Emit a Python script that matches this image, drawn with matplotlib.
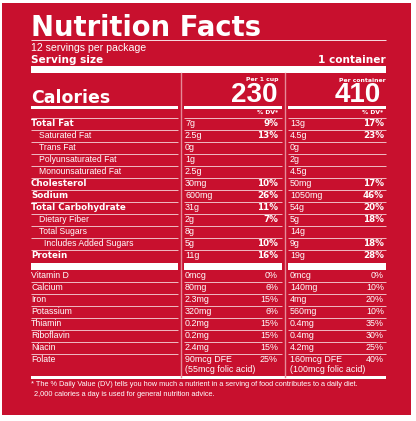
import matplotlib
matplotlib.use('Agg')
import matplotlib.pyplot as plt
from matplotlib.patches import Rectangle

# label data
servings_text = '12 servings per package'
serving_size = '1 container'
col_heads = ['Per 1 cup', 'Per container']
calories = ['230', '410']

nutrients = ['Total Fat', 'Saturated Fat', 'Trans Fat', 'Polyunsaturated Fat',
             'Monounsaturated Fat', 'Cholesterol', 'Sodium', 'Total Carbohydrate',
             'Dietary Fiber', 'Total Sugars', 'Includes Added Sugars', 'Protein']
indent = [0, 1, 1, 1, 1, 0, 0, 0, 1, 1, 2, 0]
cup_amt = ['7g', '2.5g', '0g', '1g', '2.5g', '30mg', '600mg', '31g', '2g', '8g', '5g', '11g']
cup_dv = ['9%', '13%', '', '', '', '10%', '26%', '11%', '7%', '', '10%', '16%']
cont_amt = ['13g', '4.5g', '0g', '2g', '4.5g', '50mg', '1050mg', '54g', '5g', '14g', '9g', '19g']
cont_dv = ['17%', '23%', '', '', '', '17%', '46%', '20%', '18%', '', '18%', '28%']

vitamins = ['Vitamin D', 'Calcium', 'Iron', 'Potassium', 'Thiamin', 'Riboflavin', 'Niacin', 'Folate']
vit_cup_amt = ['0mcg', '80mg', '2.3mg', '320mg', '0.2mg', '0.2mg', '2.4mg', '90mcg DFE\n(55mcg folic acid)']
vit_cup_dv = ['0%', '6%', '15%', '6%', '15%', '15%', '15%', '25%']
vit_cont_amt = ['0mcg', '140mg', '4mg', '560mg', '0.4mg', '0.4mg', '4.2mg', '160mcg DFE\n(100mcg folic acid)']
vit_cont_dv = ['0%', '10%', '20%', '10%', '35%', '30%', '25%', '40%']

footnote = ['* The % Daily Value (DV) tells you how much a nutrient in a serving of food contributes to a daily diet.',
            '2,000 calories a day is used for general nutrition advice.']

RED = '#C8102E'
W = 'white'
HEAVY = 'DejaVu Sans'
REG = 'Liberation Sans'

fig = plt.figure(figsize=(4.16, 4.21), dpi=100)
ax = fig.add_axes([0, 0, 1, 1])
ax.set_xlim(0, 416)
ax.set_ylim(421, 0)
ax.axis('off')

ax.add_patch(Rectangle((2, 3), 409, 412, color=RED, lw=0))

# column extents
cols = [(31, 178), (184, 282), (288, 386)]
amt_x = [185, 290]
pct_x = [278, 384]

def hline(y, x0, x1, lw=0.5, color=W):
    ax.plot([x0, x1], [y, y], color=color, lw=lw, solid_capstyle='butt')

def bar(y0, y1, x0, x1):
    ax.add_patch(Rectangle((x0, y0), x1 - x0, y1 - y0, color=W, lw=0))

# header
ax.text(31, 36, 'Nutrition Facts', color=W, fontsize=19.8, fontweight='bold',
        family=HEAVY, va='baseline', ha='left')
hline(40, 31, 386, lw=0.6)
ax.text(31, 48, servings_text, color=W, fontsize=7.6, family=REG, va='center')
ax.text(31, 60, 'Serving size', color=W, fontsize=7.6, fontweight='bold', family=HEAVY, va='center')
ax.text(386, 60, serving_size, color=W, fontsize=7.6, fontweight='bold', family=HEAVY, va='center', ha='right')
bar(66, 73, 31, 386)

# column separators
for x in [181, 285]:
    ax.plot([x, x], [73, 377], color='#E58A98', lw=1.0)

# calories block
ax.text(31, 103, 'Calories', color=W, fontsize=12.5, fontweight='bold', family=HEAVY, va='baseline')
calx = [278, 381]
for k in range(2):
    ax.text(pct_x[k] if k == 0 else 386, 80, col_heads[k], color=W, fontsize=4.4,
            fontweight='bold', family=HEAVY, va='center', ha='right')
    ax.text(calx[k], 102, calories[k], color=W, fontsize=20, fontweight='bold',
            family=REG, va='baseline', ha='right')
    ax.text(pct_x[k] - (0 if k == 0 else 1), 113, '% DV*', color=W, fontsize=4.4,
            fontweight='bold', family=HEAVY, va='center', ha='right')
for x0, x1 in cols:
    bar(106, 109, x0, x1)
    hline(118, x0, x1)

# main nutrients
for i, name in enumerate(nutrients):
    y = 124 + 12 * i
    if indent[i] == 0:
        ax.text(31, y, name, color=W, fontsize=6.3, fontweight='bold', family=HEAVY, va='center')
    else:
        ax.text(39 if indent[i] == 1 else 44, y, name, color=W, fontsize=6.2, family=REG, va='center')
    for k, (amts, dvs) in enumerate([(cup_amt, cup_dv), (cont_amt, cont_dv)]):
        ax.text(amt_x[k], y, amts[i], color=W, fontsize=6.4, family=REG, va='center')
        if dvs[i]:
            ax.text(pct_x[k], y, dvs[i], color=W, fontsize=6.3, fontweight='bold',
                    family=HEAVY, va='center', ha='right')
    if i < len(nutrients) - 1:
        for x0, x1 in cols:
            hline(y + 6, x0, x1)

for x0, x1 in cols:
    bar(263, 270, x0, x1)

# vitamins and minerals
for i, name in enumerate(vitamins):
    y = 276 + 12 * i
    ax.text(31, y, name, color=W, fontsize=6.3, family=REG, va='center')
    for k, (amts, dvs) in enumerate([(vit_cup_amt, vit_cup_dv), (vit_cont_amt, vit_cont_dv)]):
        ax.text(amt_x[k], y - 4.5, amts[i], color=W, fontsize=6.4, family=REG, va='top',
                linespacing=1.05)
        ax.text(pct_x[k], y, dvs[i], color=W, fontsize=6.4, family=REG, va='center', ha='right')
    if i < len(vitamins) - 1:
        for x0, x1 in cols:
            hline(y + 6, x0, x1)

bar(376, 378.5, 31, 386)

ax.text(31, 385, footnote[0], color=W, fontsize=5.35, family=REG, va='center')
ax.text(34, 394, footnote[1], color=W, fontsize=5.35, family=REG, va='center')

fig.savefig('out.png', dpi=100)
